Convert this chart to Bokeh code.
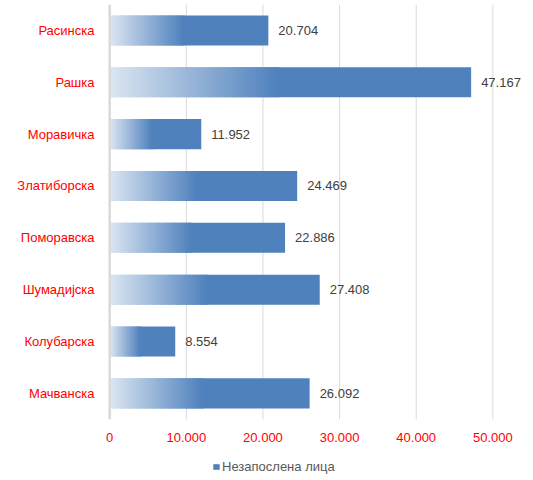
import math
from bokeh.plotting import figure
from bokeh.models import ColumnDataSource, Range1d, FixedTicker, Legend, LegendItem
from bokeh.core.properties import value
from bokeh.embed import file_html
from bokeh.resources import INLINE

# ---- data ----
regions = ["Расинска", "Рашка", "Моравичка", "Златиборска", "Поморавска", "Шумадијска", "Колубарска", "Мачванска"]
unemployed = [20704, 47167, 11952, 24469, 22886, 27408, 8554, 26092]
x_ticks = [0, 10000, 20000, 30000, 40000, 50000]
x_tick_labels = ["0", "10.000", "20.000", "30.000", "40.000", "50.000"]
series_name = "Незапослена лица"

FONT = "Liberation Sans"
BLUE = (79, 129, 189)
LIGHT = (220, 230, 242)
GRID = "#d9d9d9"
STEP = 260          # gradient step width in value units (~2 px)
GRAD_FRAC = 0.465


def hexcol(c):
    return "#%02x%02x%02x" % tuple(int(round(v)) for v in c)


n = len(regions)
pos = list(range(n))          # 0 = top category
band_top, band_bottom = -0.5, n - 0.5

p = figure(
    x_range=Range1d(-1200, 54000),
    y_range=Range1d(band_bottom + 1.18, band_top),   # extra room below for axis labels and legend
    frame_width=423, frame_height=476,
    min_border_left=100, min_border_right=10, min_border_top=4, min_border_bottom=0,
    x_axis_location=None,
    output_backend="svg", toolbar_location=None,
)
p.outline_line_color = None
p.background_fill_color = "white"
p.border_fill_color = "white"
p.xgrid.grid_line_color = None
p.ygrid.grid_line_color = None

# vertical gridlines at the value ticks
p.segment(x0=x_ticks, y0=[band_top] * len(x_ticks), x1=x_ticks, y1=[band_bottom] * len(x_ticks),
          line_color=GRID, line_width=1)

bar_h = 0.58

# gradient part of each bar (segments derived from each value)
seg_y, seg_l, seg_r, seg_c = [], [], [], []
for yy, v in zip(pos, unemployed):
    g_end = v * GRAD_FRAC
    cnt = max(4, math.ceil(g_end / STEP))
    w = g_end / cnt
    for k in range(cnt):
        t = (k + 0.5) / cnt
        seg_y.append(yy)
        seg_l.append(w * k)
        seg_r.append(min(w * (k + 2), g_end + 0.6 * w))
        seg_c.append(hexcol([LIGHT[j] + (BLUE[j] - LIGHT[j]) * t for j in range(3)]))
grad_src = ColumnDataSource(dict(y=seg_y, left=seg_l, right=seg_r, color=seg_c))

solid_src = ColumnDataSource(dict(
    y=pos,
    left=[v * GRAD_FRAC for v in unemployed],
    right=unemployed,
))

solid = p.hbar(y="y", left="left", right="right", height=bar_h, source=solid_src,
               fill_color=hexcol(BLUE), line_color=None)
p.hbar(y="y", left="left", right="right", height=bar_h, source=grad_src,
       fill_color="color", line_color=None)

# category axis line at value 0
p.segment(x0=[0], y0=[band_top], x1=[0], y1=[band_bottom], line_color=GRID, line_width=2.5)

# value labels
lab_src = ColumnDataSource(dict(
    x=unemployed, y=pos,
    t=[f"{v:,}".replace(",", ".") for v in unemployed],
))
p.text(x="x", y="y", text="t", source=lab_src, x_offset=10,
       text_baseline="middle", text_align="left",
       text_font=value(FONT), text_font_size="13px", text_color="#404040")

# value-axis tick labels below the plot area
p.text(x=x_ticks, y=[band_bottom] * len(x_ticks), text=x_tick_labels, y_offset=18,
       text_baseline="middle", text_align="center",
       text_font=value(FONT), text_font_size="13px", text_color="#ff0000")

# category axis (labels only)
ya = p.yaxis[0]
ya.ticker = FixedTicker(ticks=pos)
ya.major_label_overrides = {i: r for i, r in zip(pos, regions)}
ya.axis_line_color = None
ya.major_tick_line_color = None
ya.major_tick_out = 0
ya.major_tick_in = 0
ya.minor_tick_line_color = None
ya.minor_tick_out = 0
ya.major_label_standoff = 6
ya.major_label_text_color = "#ff0000"
ya.major_label_text_font = FONT
ya.major_label_text_font_size = "13px"

legend = Legend(items=[LegendItem(label=series_name, renderers=[solid])],
                location=(112, 6), orientation="horizontal",
                glyph_width=8, glyph_height=7, label_standoff=2,
                padding=0, margin=0, spacing=0,
                border_line_color=None, background_fill_alpha=0,
                label_text_font=FONT, label_text_font_size="13px",
                label_text_color="#595959", label_height=14)
p.add_layout(legend, "center")

open("out.html", "w").write(file_html(p, INLINE))
